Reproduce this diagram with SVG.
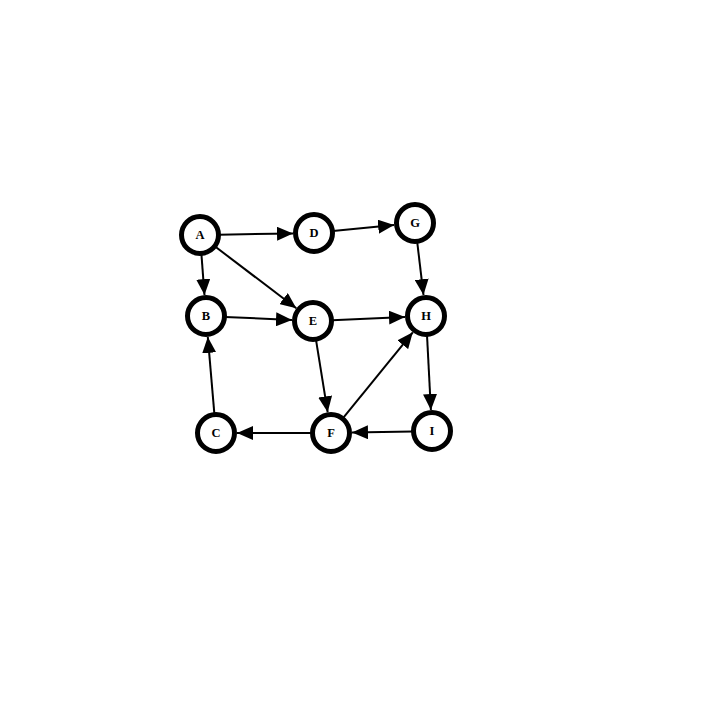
<svg xmlns="http://www.w3.org/2000/svg" width="719" height="719" viewBox="0 0 719 719">
<style>
.n circle{fill:#fff;stroke:#000;stroke-width:5}
.n text{font-family:"Liberation Serif","DejaVu Serif",serif;font-weight:bold;font-size:12.5px;text-anchor:middle;dominant-baseline:central;fill:#000}
.e line{stroke:#000;stroke-width:2;marker-end:url(#ah)}
</style>
<defs>
<marker id="ah" markerUnits="userSpaceOnUse" markerWidth="16" markerHeight="14" refX="16" refY="7" orient="auto">
<path d="M0,0 L16,7 L0,14 z" fill="#000"/>
</marker>
</defs>
<rect width="719" height="719" fill="#fff"/>
<g id="edges" class="e">
<line x1="219" y1="234.7" x2="293" y2="233.4"/>
<line x1="201.4" y1="253.9" x2="204.5" y2="295.1"/>
<line x1="215.1" y1="246.5" x2="296.3" y2="308.3"/>
<line x1="332.9" y1="231.1" x2="394.1" y2="225.1"/>
<line x1="417.2" y1="241.9" x2="423.5" y2="295.1"/>
<line x1="225" y1="316.9" x2="292" y2="320"/>
<line x1="332" y1="320.2" x2="405" y2="316.9"/>
<line x1="316" y1="339.8" x2="327.7" y2="412.3"/>
<line x1="343" y1="418.2" x2="412.8" y2="332.3"/>
<line x1="427" y1="335" x2="430.9" y2="410"/>
<line x1="413" y1="431.4" x2="352" y2="432.6"/>
<line x1="312" y1="433" x2="237" y2="433"/>
<line x1="214.4" y1="414.1" x2="207.8" y2="336.9"/>
</g>
<g id="A" class="n"><circle cx="200" cy="235" r="18.5"/><text x="200" y="235">A</text></g>
<g id="B" class="n"><circle cx="206" cy="316" r="18.5"/><text x="206" y="316">B</text></g>
<g id="C" class="n"><circle cx="216" cy="433" r="18.5"/><text x="216" y="433">C</text></g>
<g id="D" class="n"><circle cx="314" cy="233" r="18.5"/><text x="314" y="233">D</text></g>
<g id="E" class="n"><circle cx="313" cy="321" r="18.5"/><text x="313" y="321">E</text></g>
<g id="F" class="n"><circle cx="331" cy="433" r="18.5"/><text x="331" y="433">F</text></g>
<g id="G" class="n"><circle cx="415" cy="223" r="18.5"/><text x="415" y="223">G</text></g>
<g id="H" class="n"><circle cx="426" cy="316" r="18.5"/><text x="426" y="316">H</text></g>
<g id="I" class="n"><circle cx="432" cy="431" r="18.5"/><text x="432" y="431">I</text></g>
</svg>
